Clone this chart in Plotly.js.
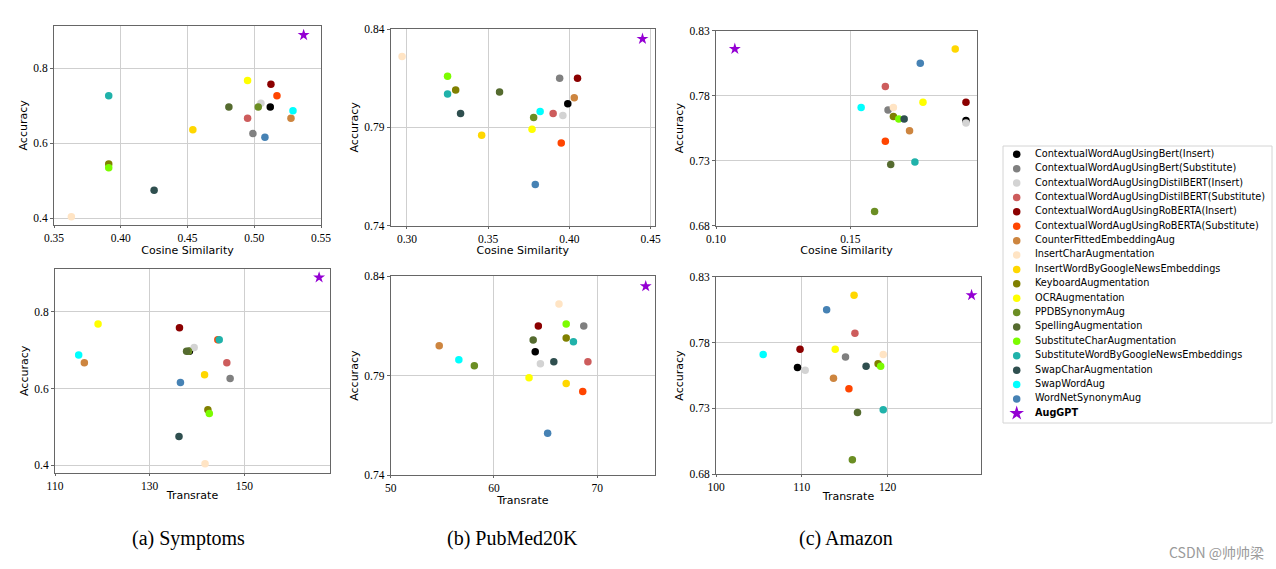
<!DOCTYPE html>
<html>
<head>
<meta charset="utf-8">
<script src="https://cdn.plot.ly/plotly-3.0.1.min.js"></script>
<style>html,body{margin:0;padding:0;background:#fff;}#chart{width:1276px;height:569px;}</style>
</head>
<body>
<div id="chart"></div>
<script>
// ---------- data ----------
const methods = [
  "ContextualWordAugUsingBert(Insert)",
  "ContextualWordAugUsingBert(Substitute)",
  "ContextualWordAugUsingDistilBERT(Insert)",
  "ContextualWordAugUsingDistilBERT(Substitute)",
  "ContextualWordAugUsingRoBERTA(Insert)",
  "ContextualWordAugUsingRoBERTA(Substitute)",
  "CounterFittedEmbeddingAug",
  "InsertCharAugmentation",
  "InsertWordByGoogleNewsEmbeddings",
  "KeyboardAugmentation",
  "OCRAugmentation",
  "PPDBSynonymAug",
  "SpellingAugmentation",
  "SubstituteCharAugmentation",
  "SubstituteWordByGoogleNewsEmbeddings",
  "SwapCharAugmentation",
  "SwapWordAug",
  "WordNetSynonymAug",
  "AugGPT"
];
const colors = ["#000000","#808080","#d3d3d3","#cd5c5c","#8b0000","#ff4500","#cd853f","#ffe4c4","#ffd700",
  "#808000","#ffff00","#6b8e23","#556b2f","#7cfc00","#20b2aa","#2f4f4f","#00ffff","#4682b4","#9400d3"];

const symptomsAcc = [0.697,0.626,0.707,0.667,0.758,0.727,0.667,0.404,0.636,0.545,0.768,0.697,0.697,0.535,0.727,0.475,0.687,0.616,0.889];
const pubmedAcc   = [0.802,0.815,0.796,0.797,0.815,0.782,0.805,0.826,0.786,0.809,0.789,0.795,0.808,0.816,0.807,0.797,0.798,0.761,0.835];
const amazonAcc   = [0.761,0.769,0.759,0.787,0.775,0.745,0.753,0.771,0.816,0.764,0.775,0.691,0.727,0.762,0.729,0.762,0.771,0.805,0.816];

const symptomsCos = [0.512,0.499,0.505,0.495,0.5125,0.517,0.5275,0.363,0.454,0.391,0.495,0.503,0.481,0.391,0.391,0.425,0.529,0.508,0.537];
const pubmedCos   = [0.399,0.394,0.396,0.390,0.405,0.395,0.403,0.297,0.346,0.330,0.377,0.378,0.357,0.325,0.325,0.333,0.382,0.379,0.445];
const amazonCos   = [0.193,0.164,0.193,0.163,0.193,0.163,0.172,0.166,0.189,0.166,0.177,0.159,0.165,0.168,0.174,0.170,0.154,0.176,0.107];

const symptomsTrans = [138.4,147.0,139.4,146.3,136.3,144.4,116.2,141.7,141.6,142.3,119.1,138.2,137.8,142.6,144.7,136.2,115.0,136.5,165.8];
const pubmedTrans   = [64.0,68.7,64.5,69.1,64.3,68.6,54.7,66.3,67.0,67.0,63.4,58.1,63.8,67.0,67.7,65.8,56.6,65.2,74.7];
const amazonTrans   = [109.5,115.1,110.4,116.2,109.8,115.5,113.7,119.5,116.1,118.9,113.9,115.9,116.5,119.2,119.5,117.5,105.5,112.9,129.8];

const captions = ["(a) Symptoms","(b) PubMed20K","(c) Amazon"];
const xTitles = ["Cosine Similarity","Transrate"];
const yTitle = "Accuracy";

// tick values per panel
const xTicks = [[0.35,0.40,0.45,0.50,0.55],[0.30,0.35,0.40,0.45],[0.10,0.15],[110,130,150],[50,60,70],[100,110,120]];
const yTicks = [[0.4,0.6,0.8],[0.74,0.79,0.84],[0.68,0.73,0.78,0.83],[0.4,0.6,0.8],[0.74,0.79,0.84],[0.68,0.73,0.78,0.83]];
const xTickText = [["0.35","0.40","0.45","0.50","0.55"],["0.30","0.35","0.40","0.45"],["0.10","0.15"],["110","130","150"],["50","60","70"],["100","110","120"]];
const yTickText = [["0.4","0.6","0.8"],["0.74","0.79","0.84"],["0.68","0.73","0.78","0.83"],["0.4","0.6","0.8"],["0.74","0.79","0.84"],["0.68","0.73","0.78","0.83"]];

// ---------- layout helpers ----------
const W = 1276, H = 569;
const fx = p => p / W, fy = p => 1 - p / H;

const panels = [
  {x: symptomsCos,   y: symptomsAcc, box:[54,321,25.7,225],    xr:[0.35,0.55],   yr:[0.382,0.914], title:xTitles[0]},
  {x: pubmedCos,     y: pubmedAcc,   box:[390.7,655,29,225.7], xr:[0.290,0.4527],yr:[0.74,0.84],   title:xTitles[0]},
  {x: amazonCos,     y: amazonAcc,   box:[716,977,30.7,225.7], xr:[0.10,0.1971], yr:[0.68,0.83],   title:xTitles[0]},
  {x: symptomsTrans, y: symptomsAcc, box:[55,330,269,472.7],   xr:[110,168.1],   yr:[0.381,0.911], title:xTitles[1]},
  {x: pubmedTrans,   y: pubmedAcc,   box:[390.7,655,276.3,475],xr:[50,75.6],     yr:[0.74,0.84],   title:xTitles[1]},
  {x: amazonTrans,   y: amazonAcc,   box:[716,981,276.7,474.3],xr:[100,130.9],   yr:[0.68,0.83],   title:xTitles[1]}
];

const tickFont = {family:'Liberation Serif, Times New Roman, serif', size:11.5, color:'#000'};
const titleFont = {family:'DejaVu Sans, sans-serif', size:11, color:'#000'};
const axisCommon = {
  showline:true, mirror:true, linecolor:'#666', linewidth:1,
  showgrid:true, gridcolor:'#cfcfcf', gridwidth:1, zeroline:false,
  ticks:'outside', tickwidth:1, tickcolor:'#666',
  tickfont: tickFont, tickmode:'array', fixedrange:true
};

const nCircle = methods.length - 1;
const traces = [];
const layout = {
  width: W, height: H, margin:{l:0,r:0,t:0,b:0},
  paper_bgcolor:'#fff', plot_bgcolor:'#fff', showlegend:false,
  annotations:[], shapes:[]
};

panels.forEach((p, i) => {
  const k = i + 1;
  const xa = 'xaxis' + (k === 1 ? '' : k), ya = 'yaxis' + (k === 1 ? '' : k);
  const xr = 'x' + (k === 1 ? '' : k), yr = 'y' + (k === 1 ? '' : k);
  layout[xa] = Object.assign({}, axisCommon, {
    tickvals:xTicks[i], ticktext:xTickText[i],
    domain:[fx(p.box[0]), fx(p.box[1])], range:p.xr, anchor:yr, ticklen:2,
    title:{text:p.title, font:titleFont, standoff:0}
  });
  layout[ya] = Object.assign({}, axisCommon, {
    tickvals:yTicks[i], ticktext:yTickText[i],
    domain:[fy(p.box[3]), fy(p.box[2])], range:p.yr, anchor:xr, ticklen:3,
    title:{text:yTitle, font:titleFont, standoff:3}
  });
  traces.push({
    type:'scatter', mode:'markers', xaxis:xr, yaxis:yr,
    x:p.x.slice(0,nCircle), y:p.y.slice(0,nCircle), text:methods.slice(0,nCircle),
    marker:{color:colors.slice(0,nCircle), size:7.5, opacity:1, line:{width:0}}, hoverinfo:'skip'
  });
  traces.push({
    type:'scatter', mode:'markers', xaxis:xr, yaxis:yr,
    x:[p.x[nCircle]], y:[p.y[nCircle]], text:[methods[nCircle]],
    marker:{color:colors[nCircle], size:9, opacity:1, symbol:'star', line:{width:0}}, hoverinfo:'skip'
  });
});

// ---------- manual legend (hidden axes) ----------
const legBox = [1003, 1272, 146, 423];
const idx = methods.map((_, i) => i);
layout.xaxis7 = {domain:[fx(legBox[0]), fx(legBox[1])], range:[0, legBox[1]-legBox[0]], visible:false, fixedrange:true, anchor:'y7'};
layout.yaxis7 = {domain:[fy(legBox[3]), fy(legBox[2])], range:[18.674, -0.577], visible:false, fixedrange:true, anchor:'x7'};
traces.push({
  type:'scatter', mode:'markers', xaxis:'x7', yaxis:'y7',
  x: idx.map(() => 13.7), y: idx,
  marker:{color:colors, opacity:1, size:idx.map(i => i === nCircle ? 11 : 7.5), symbol:idx.map(i => i === nCircle ? 'star' : 'circle'), line:{width:0}},
  hoverinfo:'skip'
});
traces.push({
  type:'scatter', mode:'text', xaxis:'x7', yaxis:'y7',
  x: idx.map(() => 32), y: idx,
  text: methods.map((m, i) => i === nCircle ? '<b>' + m + '</b>' : m),
  textposition:'middle right',
  textfont:{family:'DejaVu Sans, sans-serif', size:9.7, color:'#000'},
  hoverinfo:'skip'
});
layout.shapes.push({type:'rect', xref:'paper', yref:'paper',
  x0:fx(legBox[0]), x1:fx(legBox[1]), y0:fy(legBox[3]), y1:fy(legBox[2]),
  line:{color:'#d4d4d4', width:1}, fillcolor:'rgba(0,0,0,0)'});

// ---------- captions & watermark ----------
const capX = [188.5, 512.3, 846];
captions.forEach((c, i) => {
  layout.annotations.push({text:c, xref:'paper', yref:'paper', x:fx(capX[i]), y:fy(538),
    xanchor:'center', yanchor:'middle', showarrow:false,
    font:{family:'Liberation Serif, Times New Roman, serif', size:20, color:'#000'}});
});
layout.annotations.push({text:'CSDN @帅帅梁', xref:'paper', yref:'paper', x:fx(1216), y:fy(551.7),
  xanchor:'center', yanchor:'middle', showarrow:false,
  font:{family:'Noto Sans CJK SC, DejaVu Sans, sans-serif', size:14, color:'#9a9a9a'}});

Plotly.newPlot('chart', traces, layout, {staticPlot:true, displayModeBar:false});
</script>
</body>
</html>
